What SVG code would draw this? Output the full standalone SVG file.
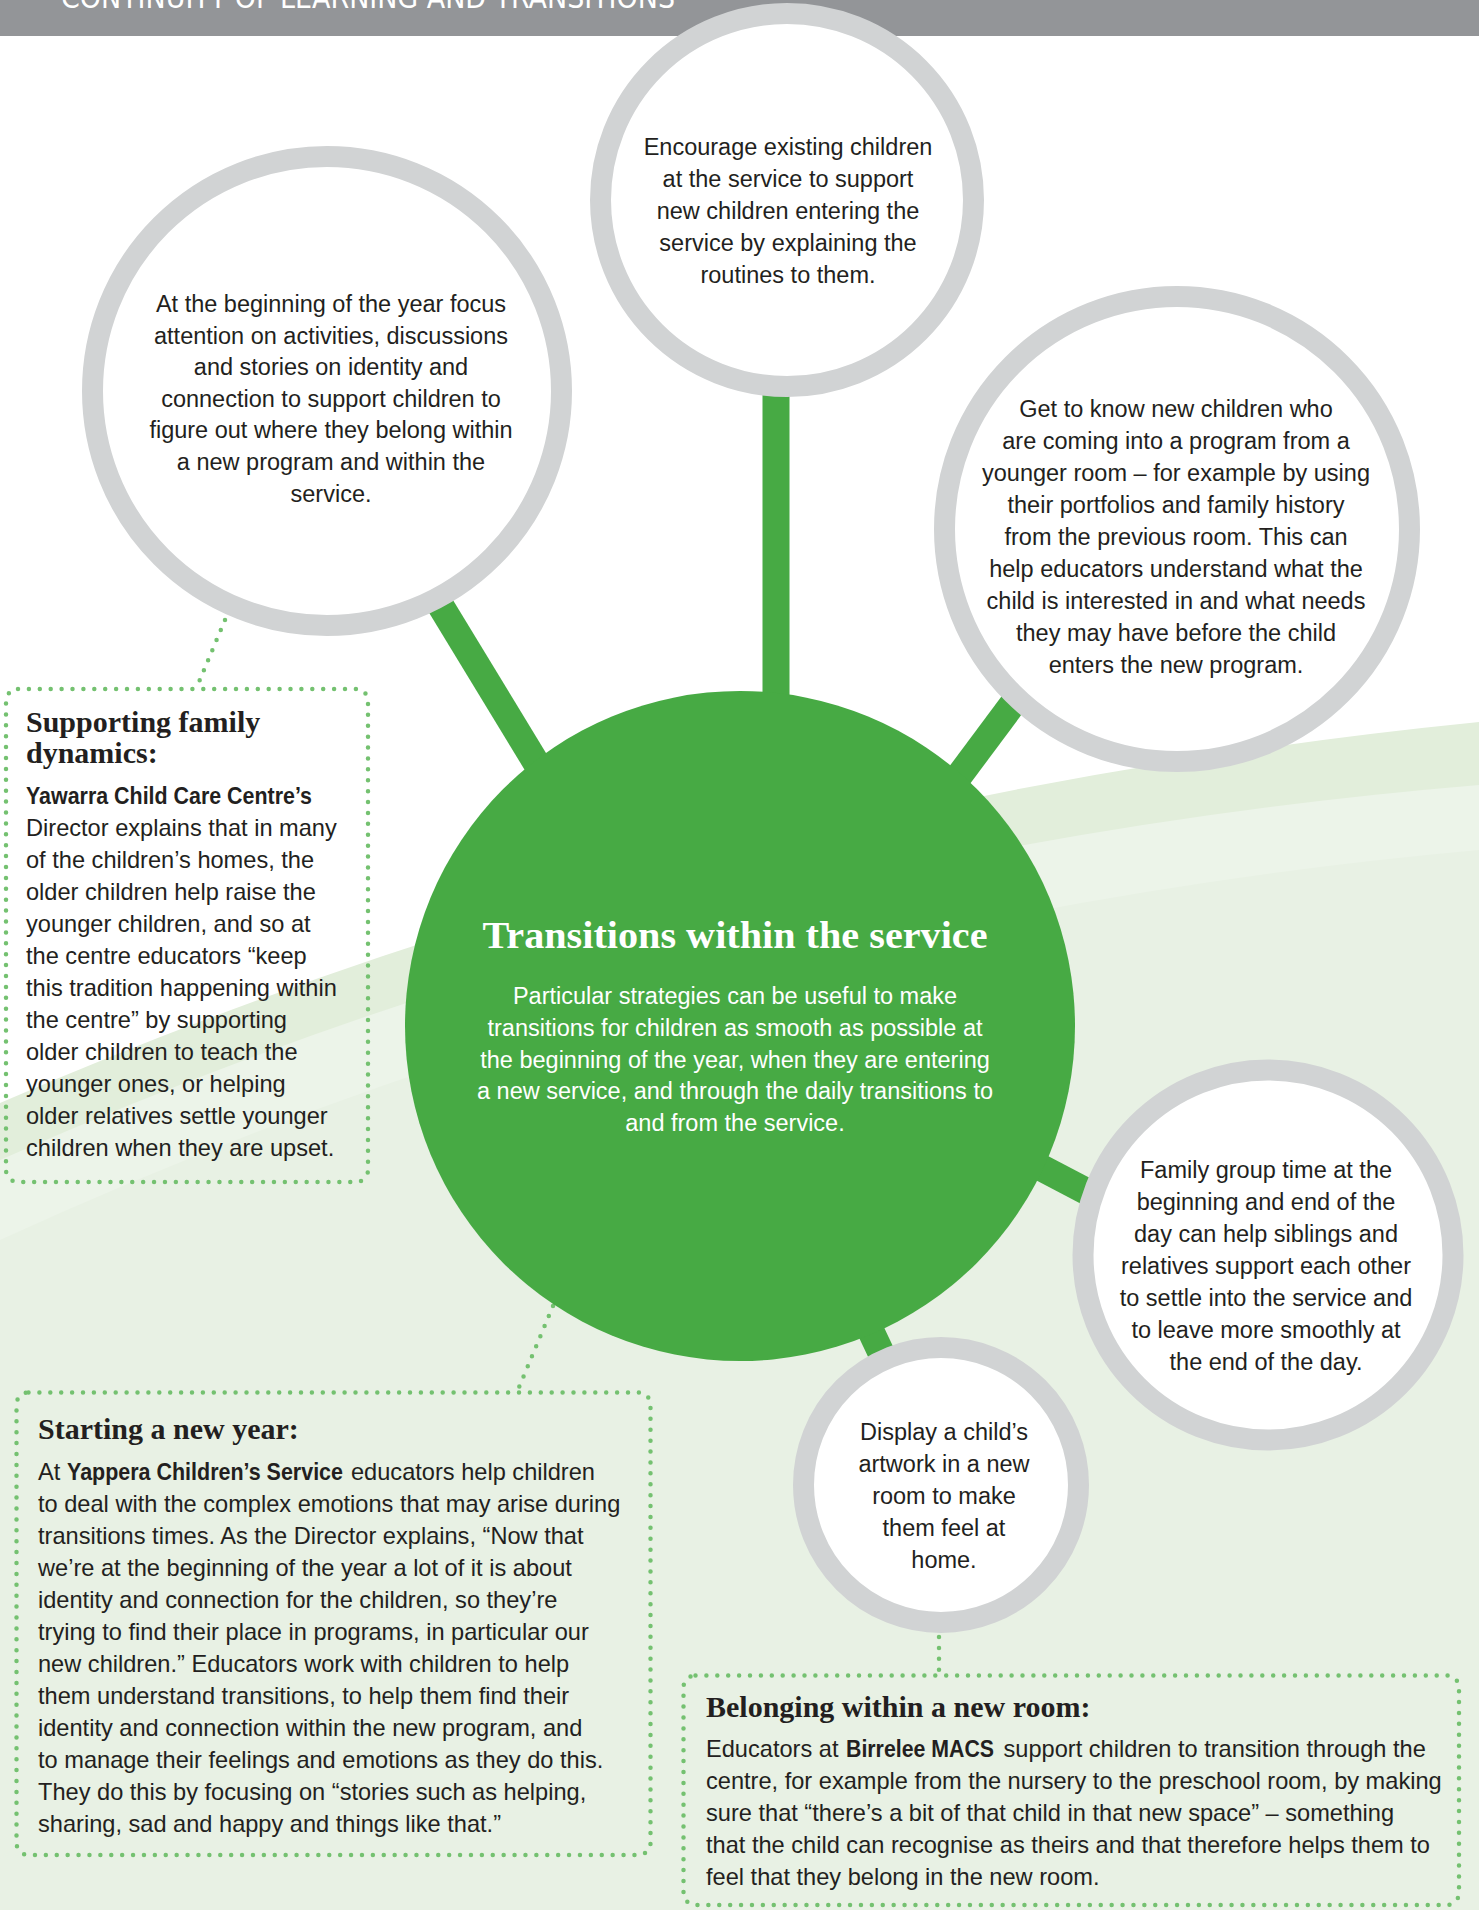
<svg xmlns="http://www.w3.org/2000/svg" width="1479" height="1910" viewBox="0 0 1479 1910">
<style>
.ring{fill:#ffffff;stroke:#d1d3d4;stroke-width:21}
.stem{stroke:#47aa44;stroke-width:27;fill:none}
.dots{fill:none;stroke:#74c170;stroke-width:4.5;stroke-linecap:round;stroke-dasharray:0 10.9}
.ct{font-family:"Liberation Sans",Arial,sans-serif;font-size:23.5px;fill:#231f20;text-anchor:middle}
.bt{font-family:"Liberation Sans",Arial,sans-serif;font-size:23.6px;fill:#231f20}
.bb{font-family:"Liberation Sans",Arial,sans-serif;font-size:23.6px;font-weight:bold;fill:#231f20}
.ht{font-family:"Liberation Serif","Times New Roman",serif;font-size:30px;font-weight:bold;fill:#231f20}
.gt{font-family:"Liberation Sans",Arial,sans-serif;font-size:23.5px;fill:#ffffff;text-anchor:middle}
</style>
<rect x="0" y="0" width="1479" height="1910" fill="#ffffff"/>
<g id="background">
<path d="M0,1103 Q700,800 1479,722 V1910 H0 Z" fill="#e2eedb"/>
<path d="M0,1160 Q700,850 1479,785 V1910 H0 Z" fill="#ecf4e9"/>
<path d="M0,1240 Q700,920 1479,850 V1910 H0 Z" fill="#e8f1e4"/>
</g>
<g id="header">
<rect x="0" y="0" width="1479" height="36" fill="#939598"/>
<text x="61" y="8" font-family="DejaVu Sans Condensed,Liberation Sans,sans-serif" font-size="30" fill="#ffffff" textLength="614" lengthAdjust="spacingAndGlyphs">CONTINUITY OF LEARNING AND TRANSITIONS</text>
</g>
<g id="connectors">
<line class="stem" x1="776" y1="390" x2="776" y2="720"/>
<line class="stem" x1="400" y1="539" x2="560" y2="802"/>
<line class="stem" x1="1070" y1="627" x2="930" y2="815"/>
<line class="stem" x1="1000" y1="1146" x2="1120" y2="1209"/>
<line class="stem" x1="859" y1="1306" x2="893" y2="1378"/>
<line class="dots" x1="225" y1="620" x2="196" y2="689"/>
<line class="dots" x1="553" y1="1306" x2="517" y2="1392"/>
<line class="dots" x1="939" y1="1637" x2="939" y2="1675"/>
</g>
<g id="center">
<circle cx="740" cy="1026" r="335" fill="#47aa44"/>
<text x="735" y="948" font-family="Liberation Serif,Times New Roman,serif" font-size="38" font-weight="bold" fill="#ffffff" text-anchor="middle" textLength="505" lengthAdjust="spacingAndGlyphs">Transitions within the service</text>
<text class="gt" x="735" y="1004">Particular strategies can be useful to make</text>
<text class="gt" x="735" y="1036">transitions for children as smooth as possible at</text>
<text class="gt" x="735" y="1068">the beginning of the year, when they are entering</text>
<text class="gt" x="735" y="1099">a new service, and through the daily transitions to</text>
<text class="gt" x="735" y="1131">and from the service.</text>
</g>
<g id="node-top-left">
<circle class="ring" cx="327" cy="391" r="234.5"/>
<text class="ct" x="331" y="312">At the beginning of the year focus</text>
<text class="ct" x="331" y="343.6">attention on activities, discussions</text>
<text class="ct" x="331" y="375.2">and stories on identity and</text>
<text class="ct" x="331" y="406.8">connection to support children to</text>
<text class="ct" x="331" y="438.4">figure out where they belong within</text>
<text class="ct" x="331" y="470">a new program and within the</text>
<text class="ct" x="331" y="501.6">service.</text>
</g>
<g id="node-top">
<circle class="ring" cx="787" cy="200" r="186.5"/>
<text class="ct" x="788" y="155">Encourage existing children</text>
<text class="ct" x="788" y="187">at the service to support</text>
<text class="ct" x="788" y="219">new children entering the</text>
<text class="ct" x="788" y="251">service by explaining the</text>
<text class="ct" x="788" y="283">routines to them.</text>
</g>
<g id="node-right">
<circle class="ring" cx="1177" cy="529" r="232.5"/>
<text class="ct" x="1176" y="417">Get to know new children who</text>
<text class="ct" x="1176" y="449">are coming into a program from a</text>
<text class="ct" x="1176" y="481">younger room – for example by using</text>
<text class="ct" x="1176" y="513">their portfolios and family history</text>
<text class="ct" x="1176" y="545">from the previous room. This can</text>
<text class="ct" x="1176" y="577">help educators understand what the</text>
<text class="ct" x="1176" y="609">child is interested in and what needs</text>
<text class="ct" x="1176" y="641">they may have before the child</text>
<text class="ct" x="1176" y="673">enters the new program.</text>
</g>
<g id="node-lower-right">
<circle class="ring" cx="1268" cy="1255" r="185"/>
<text class="ct" x="1266" y="1178">Family group time at the</text>
<text class="ct" x="1266" y="1210">beginning and end of the</text>
<text class="ct" x="1266" y="1242">day can help siblings and</text>
<text class="ct" x="1266" y="1274">relatives support each other</text>
<text class="ct" x="1266" y="1306">to settle into the service and</text>
<text class="ct" x="1266" y="1338">to leave more smoothly at</text>
<text class="ct" x="1266" y="1370">the end of the day.</text>
</g>
<g id="node-bottom">
<circle class="ring" cx="941" cy="1485" r="137.5"/>
<text class="ct" x="944" y="1440">Display a child’s</text>
<text class="ct" x="944" y="1472">artwork in a new</text>
<text class="ct" x="944" y="1504">room to make</text>
<text class="ct" x="944" y="1536">them feel at</text>
<text class="ct" x="944" y="1568">home.</text>
</g>
<g id="box-family">
<rect class="dots" x="6" y="689" width="362" height="493" rx="12"/>
<text class="ht" x="26" y="732">Supporting family</text>
<text class="ht" x="26" y="763">dynamics:</text>
<text class="bb" x="26" y="804" textLength="286" lengthAdjust="spacingAndGlyphs">Yawarra Child Care Centre’s</text>
<text class="bt" x="26" y="836">Director explains that in many</text>
<text class="bt" x="26" y="868">of the children’s homes, the</text>
<text class="bt" x="26" y="900">older children help raise the</text>
<text class="bt" x="26" y="932">younger children, and so at</text>
<text class="bt" x="26" y="964">the centre educators “keep</text>
<text class="bt" x="26" y="996">this tradition happening within</text>
<text class="bt" x="26" y="1028">the centre” by supporting</text>
<text class="bt" x="26" y="1060">older children to teach the</text>
<text class="bt" x="26" y="1092">younger ones, or helping</text>
<text class="bt" x="26" y="1124">older relatives settle younger</text>
<text class="bt" x="26" y="1156">children when they are upset.</text>
</g>
<g id="box-new-year">
<rect class="dots" x="16.5" y="1392.5" width="634" height="462.5" rx="12"/>
<text class="ht" x="38" y="1438.5">Starting a new year:</text>
<text class="bt" x="38" y="1480">At</text>
<text class="bb" x="67" y="1480" textLength="276" lengthAdjust="spacingAndGlyphs">Yappera Children’s Service</text>
<text class="bt" x="351" y="1480">educators help children</text>
<text class="bt" x="38" y="1512">to deal with the complex emotions that may arise during</text>
<text class="bt" x="38" y="1544">transitions times. As the Director explains, “Now that</text>
<text class="bt" x="38" y="1576">we’re at the beginning of the year a lot of it is about</text>
<text class="bt" x="38" y="1608">identity and connection for the children, so they’re</text>
<text class="bt" x="38" y="1640">trying to find their place in programs, in particular our</text>
<text class="bt" x="38" y="1672">new children.” Educators work with children to help</text>
<text class="bt" x="38" y="1704">them understand transitions, to help them find their</text>
<text class="bt" x="38" y="1736">identity and connection within the new program, and</text>
<text class="bt" x="38" y="1768">to manage their feelings and emotions as they do this.</text>
<text class="bt" x="38" y="1800">They do this by focusing on “stories such as helping,</text>
<text class="bt" x="38" y="1832">sharing, sad and happy and things like that.”</text>
</g>
<g id="box-new-room">
<rect class="dots" x="683.5" y="1675.5" width="775.5" height="229.5" rx="12"/>
<text class="ht" x="706" y="1717">Belonging within a new room:</text>
<text class="bt" x="706" y="1757">Educators at</text>
<text class="bb" x="846" y="1757" textLength="148" lengthAdjust="spacingAndGlyphs">Birrelee MACS</text>
<text class="bt" x="1003.5" y="1757">support children to transition through the</text>
<text class="bt" x="706" y="1789">centre, for example from the nursery to the preschool room, by making</text>
<text class="bt" x="706" y="1821">sure that “there’s a bit of that child in that new space” – something</text>
<text class="bt" x="706" y="1853">that the child can recognise as theirs and that therefore helps them to</text>
<text class="bt" x="706" y="1885">feel that they belong in the new room.</text>
</g>
</svg>
